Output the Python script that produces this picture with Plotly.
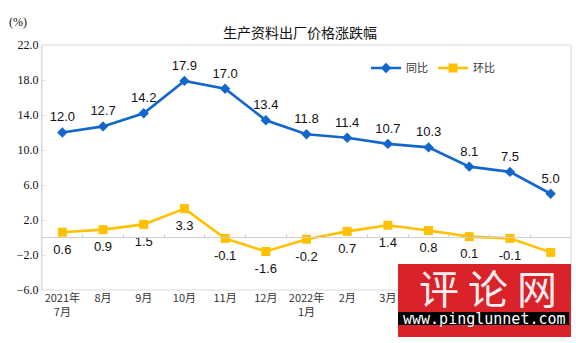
import plotly.graph_objects as go

# Monthly price change of producer goods (生产资料), %
months = ["2021年<br>7月", "8月", "9月", "10月", "11月", "12月", "2022年<br>1月",
          "2月", "3月", "4月", "5月", "6月", "7月"]
yoy = [12.0, 12.7, 14.2, 17.9, 17.0, 13.4, 11.8, 11.4, 10.7, 10.3, 8.1, 7.5, 5.0]
mom = [0.6, 0.9, 1.5, 3.3, -0.1, -1.6, -0.2, 0.7, 1.4, 0.8, 0.1, -0.1, -1.7]

y_ticks = [-6, -2, 2, 6, 10, 14, 18, 22]

BLUE = "#1366CC"
GOLD = "#FFC000"
GRID = "#D9D9D9"

W, H = 576, 343
L, R, T, B = 42, 5, 45, 53

idx = list(range(len(months)))
label_font = dict(family="Liberation Sans, Arial", size=13, color="#111")

fig = go.Figure()
fig.add_trace(go.Scatter(
    x=idx, y=yoy, name="同比", mode="lines+markers",
    line=dict(color=BLUE, width=2.6),
    marker=dict(symbol="diamond", size=8, color=BLUE),
    cliponaxis=False,
))
fig.add_trace(go.Scatter(
    x=idx, y=mom, name="环比", mode="lines+markers",
    line=dict(color=GOLD, width=2.6),
    marker=dict(symbol="square", size=9, color=GOLD),
    cliponaxis=False,
))
# value labels (transparent markers widen the gap between point and text)
fig.add_trace(go.Scatter(
    x=idx, y=yoy, mode="markers+text", showlegend=False, hoverinfo="skip",
    marker=dict(size=11, color="rgba(0,0,0,0)"),
    text=[f"{v:.1f}" for v in yoy], textposition="top center",
    textfont=label_font, cliponaxis=False,
))
fig.add_trace(go.Scatter(
    x=idx, y=mom, mode="markers+text", showlegend=False, hoverinfo="skip",
    marker=dict(size=17, color="rgba(0,0,0,0)"),
    text=[f"{v:.1f}" for v in mom], textposition="bottom center",
    textfont=label_font, cliponaxis=False,
))
# zero line with ticks at category boundaries
fig.add_trace(go.Scatter(x=[-0.5, 12.5], y=[0, 0], xaxis="x2", mode="lines",
                         line=dict(color="#CFCFCF", width=1),
                         showlegend=False, hoverinfo="skip"))

fig.update_layout(
    width=W, height=H,
    margin=dict(l=L, r=R, t=T, b=B),
    paper_bgcolor="white", plot_bgcolor="white",
    title=dict(text="生产资料出厂价格涨跌幅", x=300 / W, xanchor="center",
               y=1 - 33 / H, yanchor="middle", yref="container",
               font=dict(family="Noto Sans CJK SC", size=14, color="#111")),
    legend=dict(orientation="h", x=(366 - L) / (W - L - R), y=(290 - 68) / 245,
                xanchor="left", yanchor="middle", bgcolor="rgba(0,0,0,0)",
                font=dict(family="Noto Sans CJK SC", size=11, color="#333"),
                itemwidth=30, tracegroupgap=0),
    xaxis=dict(range=[-0.5, 12.5], tickmode="array", tickvals=idx, ticktext=months,
               showgrid=False, zeroline=False, showline=False, ticks="",
               tickfont=dict(family="Noto Sans CJK SC", size=11, color="#333")),
    xaxis2=dict(range=[-0.5, 12.5], overlaying="x", anchor="free",
                position=6 / 28, tickmode="array",
                tickvals=[i + 0.5 for i in idx[:-1]], ticks="inside", ticklen=4,
                tickcolor="#CFCFCF", showticklabels=False, showgrid=False,
                zeroline=False, showline=False),
    yaxis=dict(range=[-6, 22], tickmode="array", tickvals=y_ticks,
               tickformat=".1f", showgrid=False, zeroline=False,
               showline=True, linecolor=GRID, ticks="inside", ticklen=3,
               tickcolor=GRID,
               tickfont=dict(family="Liberation Serif, Times New Roman", size=12,
                             color="#111")),
    showlegend=True,
)

# frame around the plotting area
fig.add_shape(type="rect", xref="paper", yref="paper", x0=0, x1=1, y0=0, y1=1,
              line=dict(color=GRID, width=1), layer="below")

fig.add_annotation(text="(%)", xref="paper", yref="paper",
                   x=(18 - L) / (W - L - R), y=(290 - 22) / 245,
                   showarrow=False, xanchor="center", yanchor="middle",
                   font=dict(family="Liberation Serif", size=12, color="#111"))

# site stamp in the lower right corner
px = lambda v: (v - L) / (W - L - R)
py = lambda v: (290 - v) / 245
fig.add_shape(type="rect", xref="paper", yref="paper",
              x0=px(398), x1=px(571), y0=py(337), y1=py(264),
              fillcolor="#D9222A", line=dict(width=0), layer="above")
fig.add_shape(type="rect", xref="paper", yref="paper",
              x0=px(398), x1=px(569), y0=py(325), y1=py(312),
              fillcolor="#000000", line=dict(width=0), layer="above")
fig.add_annotation(text="评 论 网", xref="paper", yref="paper",
                   x=px(488), y=py(287), showarrow=False,
                   xanchor="center", yanchor="middle",
                   font=dict(family="Noto Sans CJK SC", size=40, color="#FBEDED"))
fig.add_annotation(text="www.pinglunnet.com", xref="paper", yref="paper",
                   x=px(484), y=py(318.5), showarrow=False,
                   xanchor="center", yanchor="middle",
                   font=dict(family="DejaVu Sans Mono", size=15, color="#FFFFFF"))

fig.write_html("out.html")
